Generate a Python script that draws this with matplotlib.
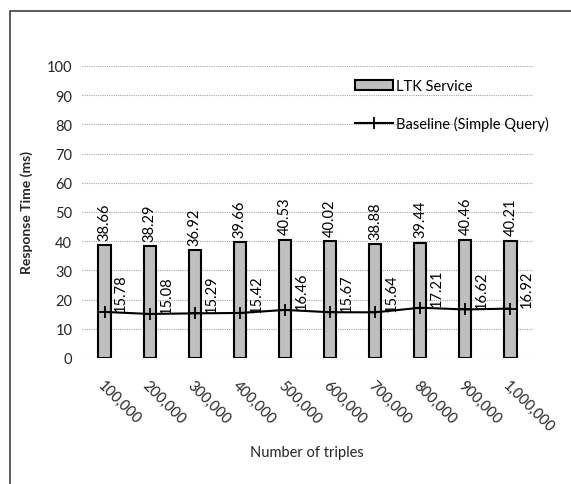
import numpy as np
import matplotlib.pyplot as plt
from matplotlib.patches import Rectangle

plt.rcParams["font.family"] = ["Lato", "DejaVu Sans"]

categories = ["100,000", "200,000", "300,000", "400,000", "500,000",
              "600,000", "700,000", "800,000", "900,000", "1,000,000"]
ltk_service = [38.66, 38.29, 36.92, 39.66, 40.53, 40.02, 38.88, 39.44, 40.46, 40.21]
baseline = [15.78, 15.08, 15.29, 15.42, 16.46, 15.67, 15.64, 17.21, 16.62, 16.92]

fig = plt.figure(figsize=(5.71, 4.85), dpi=100)
ax = fig.add_axes([0.1436, 0.2598, 0.7899, 0.6021])

x = np.arange(len(categories))
bars = ax.bar(x, ltk_service, width=0.27, color="#bfbfbf", edgecolor="black",
              linewidth=1.5, label="LTK Service", zorder=2)
line, = ax.plot(x, baseline, color="black", linewidth=1.5, marker="+",
                markersize=8, markeredgewidth=1.3,
                label="Baseline (Simple Query)", zorder=3)

for xi, v in zip(x, ltk_service):
    ax.annotate(f"{v:.2f}", (xi, v), xytext=(0, 4), textcoords="offset points",
                rotation=90, ha="center", va="bottom", fontsize=10.5)
for xi, v in zip(x, baseline):
    ax.annotate(f"{v:.2f}", (xi, v), xytext=(12, 1), textcoords="offset points",
                rotation=90, ha="center", va="bottom", fontsize=10.5)

ax.set_xlim(-0.5, len(categories) - 0.5)
ax.set_ylim(0, 100)
ax.set_yticks(np.arange(0, 101, 10))
ax.yaxis.grid(True, color="#a6a6a6", linestyle=(0, (1, 1)), linewidth=0.8, zorder=0)
ax.set_axisbelow(True)
for s in ax.spines.values():
    s.set_visible(False)
ax.tick_params(axis="both", length=0, labelsize=10.5, colors="#262626")
ax.tick_params(axis="y", pad=7)
ax.set_xticks(x)
ax.set_xticklabels(categories, rotation=-45, ha="left", va="top",
                   rotation_mode="anchor")
ax.tick_params(axis="x", pad=14)

ax.set_ylabel("Response Time (ms)", fontsize=10, fontweight="bold",
              color="#262626", labelpad=10)
fig.text(0.538, 0.066, "Number of triples", ha="center", va="center",
         fontsize=10.5, color="#262626")

ax.legend([bars, line], ["LTK Service", "Baseline (Simple Query)"],
          loc="upper left", bbox_to_anchor=(0.605, 0.955), frameon=False,
          fontsize=10.5, handlelength=2.6, handletextpad=0.25,
          labelspacing=1.55, borderaxespad=0, borderpad=0)

fig.patches.append(Rectangle((10 / 571, -0.1), 1.2, 1 - 12 / 485 + 0.1,
                             transform=fig.transFigure, fill=False,
                             edgecolor="#404040", linewidth=1.2))

fig.savefig("out.png", dpi=100)
